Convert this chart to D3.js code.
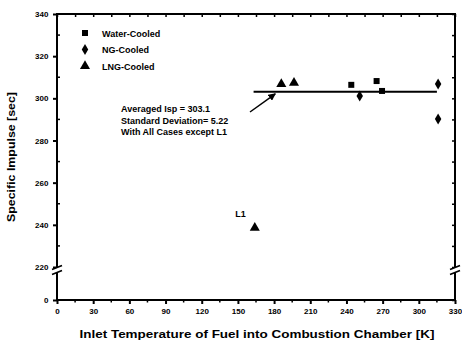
<!DOCTYPE html>
<html>
<head>
<meta charset="utf-8">
<script src="https://cdn.jsdelivr.net/npm/d3@7"></script>
<style>
  body { margin: 0; background: #fff; }
  text { font-family: "Liberation Sans", Arial, sans-serif; font-weight: bold; fill: #000; }
</style>
</head>
<body>
<svg id="chart" width="462" height="345"></svg>
<script>
// data
let waterT = [244, 265, 269.5];
let waterIsp = [306.4, 308.2, 303.5];
let ngT = [251, 316, 316];
let ngIsp = [301.1, 306.8, 290.2];
let lngT = [186, 196.5, 164];
let lngIsp = [306.8, 307.3, 238.6];
let fitT = [163, 315];
let fitIsp = 303.1;

let xTicks = d3.range(0, 331, 30);
let yTicks = [0, 220, 240, 260, 280, 300, 320, 340];
let legendNames = ["Water-Cooled", "NG-Cooled", "LNG-Cooled"];
let noteLines = ["Averaged Isp = 303.1", "Standard Deviation= 5.22", "With All Cases except L1"];

let svg = d3.select("#chart");

let x = d3.scaleLinear().domain([0, 330]).range([57, 455]);
// broken y axis: 0 .. 220 squeezed at the bottom
let y = d3.scaleLinear().domain([0, 220, 340]).range([300, 267, 14]);

let pLeft = 57, pRight = 455, pTop = 14, pBottom = 300;

// frame
let g = svg.append("g");
g.append("rect")
  .attr("x", pLeft).attr("y", pTop)
  .attr("width", pRight - pLeft).attr("height", pBottom - pTop)
  .attr("fill", "none").attr("stroke", "#000").attr("stroke-width", 2);

// bottom axis
let xAxis = d3.axisBottom(x).tickValues(xTicks).tickSize(4).tickFormat(d3.format("d"));
let gx = g.append("g").attr("transform", "translate(0," + pBottom + ")").call(xAxis);
gx.select(".domain").remove();
gx.selectAll("line").attr("stroke-width", 2);
gx.selectAll("text").attr("font-size", 8).attr("dy", "0.9em");
let xMinor = d3.range(15, 330, 30);
gx.selectAll(".minor").data(xMinor).enter().append("line")
  .attr("x1", d => x(d)).attr("x2", d => x(d))
  .attr("y1", 0).attr("y2", 2.5).attr("stroke", "#000").attr("stroke-width", 1.5);

// top axis, inward ticks
let gt = g.append("g").attr("transform", "translate(0," + pTop + ")")
  .call(d3.axisTop(x).tickValues(xTicks.concat(xMinor)).tickSize(-3).tickFormat(""));
gt.select(".domain").remove();
gt.selectAll("line").attr("stroke-width", 1.5);

// left axis
let yAxis = d3.axisLeft(y).tickValues(yTicks).tickSize(4).tickFormat(d3.format("d"));
let gy = g.append("g").attr("transform", "translate(" + pLeft + ",0)").call(yAxis);
gy.select(".domain").remove();
gy.selectAll("line").attr("stroke-width", 2);
gy.selectAll("text").attr("font-size", 8).attr("dx", "-0.2em");
let yMinor = d3.range(230, 340, 20);
gy.selectAll(".minor").data(yMinor).enter().append("line")
  .attr("x1", 0).attr("x2", 3)
  .attr("y1", d => y(d)).attr("y2", d => y(d)).attr("stroke", "#000").attr("stroke-width", 1.5);

// right axis, inward ticks
let gr = g.append("g").attr("transform", "translate(" + pRight + ",0)")
  .call(d3.axisRight(y).tickValues(yTicks.concat(yMinor)).tickSize(-3).tickFormat(""));
gr.select(".domain").remove();
gr.selectAll("line").attr("stroke-width", 1.5);

// axis breaks
[pLeft, pRight].forEach(function(ax) {
  let yb = y(220) + 3;
  g.append("rect").attr("x", ax - 2).attr("y", yb - 2).attr("width", 4).attr("height", 4).attr("fill", "#fff");
  [yb - 2.5, yb + 2.5].forEach(function(yy) {
    g.append("line")
      .attr("x1", ax - 5).attr("y1", yy + 2).attr("x2", ax + 5).attr("y2", yy - 2)
      .attr("stroke", "#000").attr("stroke-width", 1.6);
  });
});

// axis titles
svg.append("text")
  .attr("x", 257).attr("y", 338).attr("text-anchor", "middle")
  .attr("font-size", 10).attr("textLength", 355).attr("lengthAdjust", "spacingAndGlyphs")
  .text("Inlet Temperature of Fuel into Combustion Chamber [K]");
svg.append("text")
  .attr("transform", "translate(15,157) rotate(-90)").attr("text-anchor", "middle")
  .attr("font-size", 10).attr("textLength", 130).attr("lengthAdjust", "spacingAndGlyphs")
  .text("Specific Impulse [sec]");

// fitted average line
g.append("line")
  .attr("x1", x(fitT[0])).attr("x2", x(fitT[1]))
  .attr("y1", y(fitIsp)).attr("y2", y(fitIsp))
  .attr("stroke", "#000").attr("stroke-width", 2);

// markers
let sq = d3.symbol().type(d3.symbolSquare).size(36);
let di = d3.symbol().type(d3.symbolDiamond).size(36);
let tr = d3.symbol().type(d3.symbolTriangle).size(44);

g.selectAll(".water").data(waterT).enter().append("path")
  .attr("d", sq).attr("transform", (d, i) => "translate(" + x(d) + "," + y(waterIsp[i]) + ")");
g.selectAll(".ng").data(ngT).enter().append("path")
  .attr("d", di).attr("transform", (d, i) => "translate(" + x(d) + "," + y(ngIsp[i]) + ")");
g.selectAll(".lng").data(lngT).enter().append("path")
  .attr("d", tr).attr("transform", (d, i) => "translate(" + x(d) + "," + y(lngIsp[i]) + ")");

// L1 label
svg.append("text").attr("x", x(lngT[2]) - 9).attr("y", y(lngIsp[2]) - 11)
  .attr("text-anchor", "end").attr("font-size", 9).text("L1");

// legend
let syms = [sq, di, tr];
legendNames.forEach(function(name, i) {
  let ly = 33 + i * 16.5;
  svg.append("path").attr("d", syms[i]).attr("transform", "translate(85," + ly + ")");
  svg.append("text").attr("x", 102).attr("y", ly + 3.5).attr("font-size", 9).text(name);
});

// annotation
noteLines.forEach(function(t, i) {
  svg.append("text").attr("x", 121).attr("y", 112 + i * 11.5).attr("font-size", 9).text(t);
});
svg.append("defs").append("marker")
  .attr("id", "arr").attr("viewBox", "0 0 10 10").attr("refX", 9).attr("refY", 5)
  .attr("markerWidth", 5).attr("markerHeight", 5).attr("orient", "auto")
  .append("path").attr("d", "M0,0L10,5L0,10z");
svg.append("line")
  .attr("x1", 250).attr("y1", 112).attr("x2", x(181)).attr("y2", y(fitIsp) + 2)
  .attr("stroke", "#000").attr("stroke-width", 1.5).attr("marker-end", "url(#arr)");
</script>
</body>
</html>
